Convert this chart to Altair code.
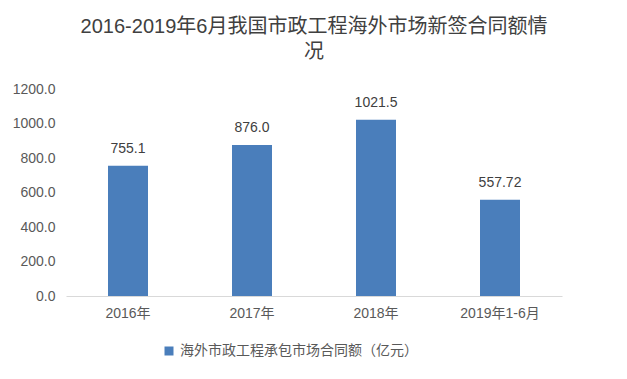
import altair as alt
import pandas as pd

categories = ["2016年", "2017年", "2018年", "2019年1-6月"]
values = [755.1, 876.0, 1021.5, 557.72]
value_labels = ["755.1", "876.0", "1021.5", "557.72"]
series_name = "海外市政工程承包市场合同额（亿元）"
y_ticks = [0, 200, 400, 600, 800, 1000, 1200]

df = pd.DataFrame({
    "category": categories,
    "value": values,
    "label": value_labels,
    "series": [series_name] * len(categories),
})

FONT = "'Liberation Sans', 'Noto Sans CJK SC', sans-serif"
BAR = "#4a7ebb"

x_enc = alt.X(
    "category:N",
    sort=categories,
    scale=alt.Scale(paddingInner=0.68, paddingOuter=0.34),
    axis=alt.Axis(
        title=None, labelAngle=0, ticks=False, domainColor="#d9d9d9",
        domainWidth=1, labelPadding=10, labelFontSize=14, labelColor="#595959",
        labelFont=FONT,
    ),
)
y_enc = alt.Y(
    "value:Q",
    scale=alt.Scale(domain=[0, 1200], nice=False),
    axis=alt.Axis(
        title=None, values=y_ticks, format=".1f", grid=False, domain=False,
        ticks=False, labelPadding=11, labelFontSize=14, labelColor="#595959",
        labelFont=FONT, labelOverlap=False,
    ),
)

bars = alt.Chart(df).mark_bar(size=40).encode(
    x=x_enc,
    y=y_enc,
    color=alt.Color(
        "series:N",
        scale=alt.Scale(range=[BAR]),
        legend=alt.Legend(
            title=None, orient="none", legendX=96, legendY=255,
            symbolType="square", symbolSize=81, symbolStrokeWidth=0,
            labelFontSize=14, labelColor="#595959", labelFont=FONT,
            labelLimit=400, symbolOffset=0,
        ),
    ),
)

text = alt.Chart(df).mark_text(
    baseline="bottom", dy=-10, fontSize=14, color="#404040", font=FONT
).encode(x=x_enc, y=y_enc, text="label:N")

chart = (bars + text).properties(
    width=496,
    height=207,
    padding={"left": 58, "top": 81, "right": 57, "bottom": 72},
    autosize=alt.AutoSizeParams(type="none"),
    background="white",
    title=alt.TitleParams(
        ["2016-2019年6月我国市政工程海外市场新签合同额情", "况"],
        anchor="middle", fontSize=20, font=FONT, color="#404040",
        fontWeight="normal", lineHeight=25, offset=20,
    ),
).configure_view(strokeWidth=0).configure_axis(grid=False, labelOverlap=False)

chart.save("out.html", embed_options={"renderer": "svg", "actions": False})
